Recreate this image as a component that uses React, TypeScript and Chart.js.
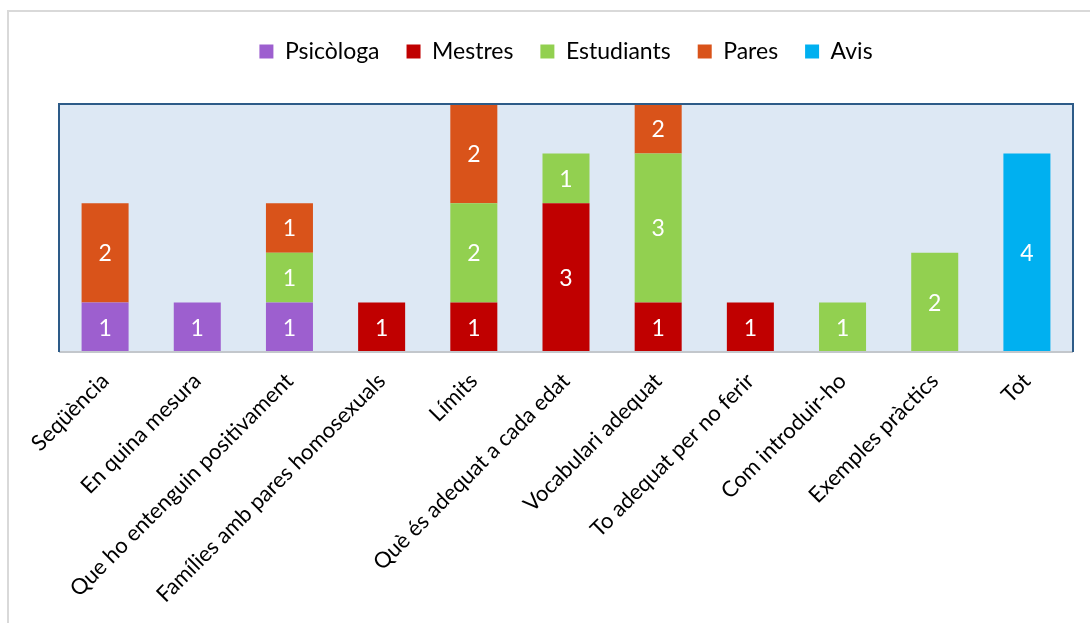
import React, { useEffect, useRef } from "react";
import { Chart, registerables } from "chart.js";

Chart.register(...registerables);

const categories = [
  "Seqüència",
  "En quina mesura",
  "Que ho entenguin positivament",
  "Famílies amb pares homosexuals",
  "Límits",
  "Què és adequat a cada edat",
  "Vocabulari adequat",
  "To adequat per no ferir",
  "Com introduir-ho",
  "Exemples pràctics",
  "Tot",
];

const psicologa = [1, 1, 1, 0, 0, 0, 0, 0, 0, 0, 0];
const mestres = [0, 0, 0, 1, 1, 3, 1, 1, 0, 0, 0];
const estudiants = [0, 0, 1, 0, 2, 1, 3, 0, 1, 2, 0];
const pares = [2, 0, 1, 0, 2, 0, 2, 0, 0, 0, 0];
const avis = [0, 0, 0, 0, 0, 0, 0, 0, 0, 0, 4];

const seriesNames = ["Psicòloga", "Mestres", "Estudiants", "Pares", "Avis"];
const seriesColors = ["#9d5fcf", "#c00000", "#92d050", "#d9531a", "#00b0f0"];
const yMax = 5;

const FONT = "Lato, 'Open Sans', sans-serif";

const plotBgPlugin = {
  id: "plotBg",
  beforeLayout(chart: any) {
    const lg = chart.legend;
    if (lg && !lg._patched) {
      const f = lg.fit;
      lg.fit = function () {
        f.call(this);
        this.height += 31;
      };
      lg._patched = true;
    }
  },
  beforeDatasetsDraw(chart: any) {
    const { ctx, chartArea: a } = chart;
    ctx.save();
    ctx.fillStyle = "#dde8f4";
    ctx.fillRect(a.left, a.top, a.right - a.left, a.bottom - a.top);
    ctx.restore();
  },
  afterDatasetsDraw(chart: any) {
    const { ctx, chartArea: a } = chart;
    ctx.save();
    ctx.strokeStyle = "#c3c7cc";
    ctx.lineWidth = 2;
    ctx.beginPath();
    ctx.moveTo(a.left, a.bottom);
    ctx.lineTo(a.right, a.bottom);
    ctx.stroke();
    ctx.strokeStyle = "#2d5b88";
    ctx.lineWidth = 2;
    ctx.beginPath();
    ctx.moveTo(a.left, a.bottom);
    ctx.lineTo(a.left, a.top);
    ctx.lineTo(a.right, a.top);
    ctx.lineTo(a.right, a.bottom);
    ctx.stroke();
    // data labels
    ctx.fillStyle = "#ffffff";
    ctx.font = `23px ${FONT}`;
    ctx.textAlign = "center";
    ctx.textBaseline = "middle";
    chart.data.datasets.forEach((ds: any, di: number) => {
      const meta = chart.getDatasetMeta(di);
      meta.data.forEach((el: any, i: number) => {
        const v = ds.data[i];
        if (!v) return;
        const top = Math.max(Math.min(el.y, el.base), a.top);
        const bot = Math.min(Math.max(el.y, el.base), a.bottom);
        ctx.fillText(String(v), el.x, (top + bot) / 2 + 1);
      });
    });
    ctx.restore();
  },
};

export default function App() {
  const ref = useRef<HTMLCanvasElement>(null);
  useEffect(() => {
    document.body.style.margin = "0";
    const data = [psicologa, mestres, estudiants, pares, avis];
    const chart = new Chart(ref.current!, {
      type: "bar",
      data: {
        labels: categories,
        datasets: data.map((d, i) => ({
          label: seriesNames[i],
          data: d,
          backgroundColor: seriesColors[i],
          borderWidth: 0,
          categoryPercentage: 0.51,
          barPercentage: 1,
        })),
      },
      options: {
        animation: false,
        responsive: false,
        layout: { padding: { left: 59, right: 17, top: 13, bottom: 0 } },
        plugins: {
          legend: {
            position: "top",
            labels: {
              boxWidth: 14,
              boxHeight: 14,
              padding: 27,
              color: "#000",
              font: { family: FONT, size: 23 },
            },
          },
          tooltip: { enabled: false },
        },
        scales: {
          x: {
            stacked: true,
            grid: { display: false },
            border: { display: false },
            ticks: {
              color: "#000",
              font: { family: FONT, size: 22 },
              minRotation: 45,
              maxRotation: 45,
              autoSkip: false,
              padding: 8,
            },
            afterFit: (scale: any) => {
              scale.height = 623 - 352;
            },
          },
          y: {
            stacked: true,
            display: false,
            min: 0,
            max: yMax,
          },
        },
      },
      plugins: [plotBgPlugin],
    });
    return () => chart.destroy();
  }, []);
  return (
    <div style={{ position: "relative", width: 1090, height: 623, background: "#fff", overflow: "hidden" }}>
      <div
        style={{
          position: "absolute",
          left: 7,
          top: 10,
          width: 1200,
          height: 800,
          borderLeft: "2px solid #d9d9d9",
          borderTop: "2px solid #d9d9d9",
        }}
      />
      <canvas ref={ref} width={1090} height={623} style={{ position: "absolute", left: 0, top: 0, width: 1090, height: 623 }} />
    </div>
  );
}
